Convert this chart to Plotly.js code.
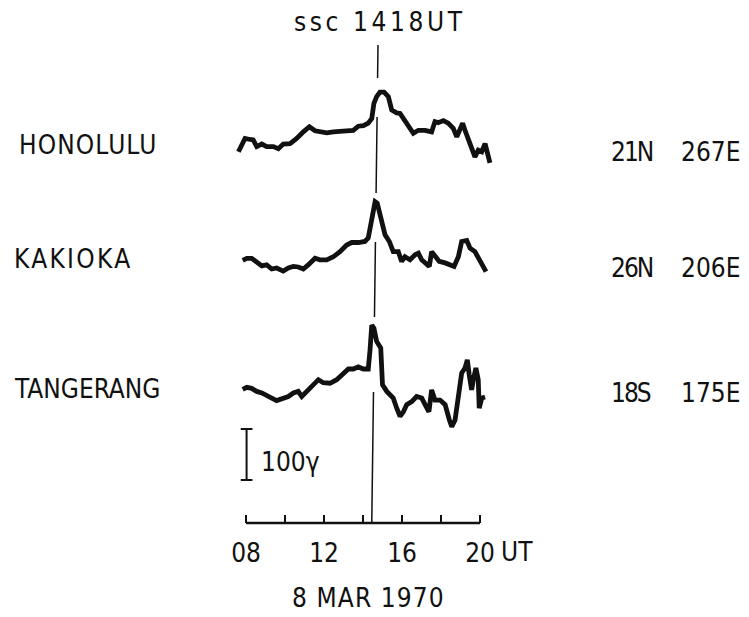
<!DOCTYPE html>
<html>
<head>
<meta charset="utf-8">
<script src="https://cdn.plot.ly/plotly-3.0.1.min.js"></script>
<style>html,body{margin:0;padding:0;background:#fff;}#chart{width:749px;height:617px;}</style>
</head>
<body>
<div id="chart"></div>
<script>
// ---------------- DATA ----------------
const stations = ['HONOLULU', 'KAKIOKA', 'TANGERANG'];
const stationLat = ['21N', '26N', '18S'];
const stationLon = ['267E', '206E', '175E'];
const sscLabel = 'ssc 1418UT';
const dateLabel = '8 MAR 1970';
const scaleLabel = '100γ';
const scaleGamma = 100;
const tickHours = [8, 10, 12, 14, 16, 18, 20];
const tickLabels = ['08', '', '12', '', '16', '', '20'];
const unitLabel = 'UT';

// H-component deviations (gamma) vs time (UT hours)
const honoluluT = [7.61,7.95,8.21,8.37,8.55,8.81,9.06,9.40,9.66,9.91,10.26,10.60,10.94,11.25,11.54,11.79,12.14,12.48,12.82,13.16,13.50,13.76,14.02,14.27,14.45,14.56,14.70,14.87,15.08,15.30,15.47,15.73,15.90,16.15,16.41,16.58,16.84,17.18,17.52,17.69,17.86,18.12,18.37,18.63,18.81,18.97,19.11,19.23,19.40,19.57,19.74,19.91,20.09,20.26,20.37,20.51];
const honoluluH = [-11,15,13,12,-1,4,-1,-1,-5,4,5,15,28,38,30,28,26,28,28,30,31,39,40,45,54,84,97,106,106,97,71,65,64,48,35,25,31,31,28,48,46,50,45,35,18,31,45,31,12,-1,-21,-8,-11,5,-14,-33];

const kakiokaT = [7.83,8.04,8.29,8.55,8.81,9.06,9.32,9.57,9.91,10.17,10.43,10.68,10.94,11.19,11.54,11.79,12.14,12.48,12.82,13.16,13.42,13.76,14.10,14.27,14.39,14.53,14.62,14.73,14.87,15.01,15.13,15.35,15.55,15.81,15.98,16.15,16.41,16.67,16.84,17.01,17.27,17.40,17.52,17.69,17.91,18.21,18.46,18.67,18.89,19.06,19.32,19.49,19.74,19.91,20.09,20.31];
const kakiokaH = [-1,3,3,-6,-12,-10,-18,-16,-22,-16,-13,-14,-18,-10,3,0,0,6,16,29,34,34,36,43,72,101,114,111,88,62,49,36,16,16,-3,6,0,10,13,0,-10,-13,16,6,-3,-6,-10,-13,6,36,38,23,16,3,-10,-23];

const tangerangT = [7.83,8.04,8.29,8.55,8.81,9.06,9.32,9.57,9.83,10.17,10.43,10.68,10.86,11.11,11.45,11.71,11.96,12.31,12.65,12.91,13.25,13.50,13.76,14.02,14.27,14.36,14.45,14.56,14.70,14.91,14.94,14.96,15.00,15.22,15.55,15.73,15.90,16.07,16.24,16.50,16.75,17.01,17.27,17.38,17.52,17.69,17.95,18.21,18.43,18.55,18.72,18.89,19.06,19.23,19.35,19.45,19.57,19.69,19.79,19.91,19.96,20.09,20.26];
const tangerangH = [1,5,3,-3,-6,-10,-16,-21,-18,-13,-6,-3,-13,-3,10,20,14,13,20,29,41,41,45,41,41,78,127,121,95,82,55,29,10,-3,-16,-36,-52,-43,-29,-23,-13,-16,-36,-43,0,-20,-20,-29,-59,-72,-59,-10,33,43,59,29,0,26,43,20,-36,-16,-14];

// ---------------- LAYOUT GEOMETRY ----------------
const W = 749, H = 617;
const M = {l: 234, r: 253, t: 40, b: 94};
const plotW = W - M.l - M.r, plotH = H - M.t - M.b;
const pxPerHour = 19.5, pxPerGamma = 0.51;
const axisLeftPx = 246;
const xRange = [8 - (axisLeftPx - M.l) / pxPerHour, 8 + (plotW - (axisLeftPx - M.l)) / pxPerHour];
const yRange = [0, plotH / pxPerGamma];
const stackOffset = [739, 516, 261];   // vertical placement of each trace (gamma above axis)
const yOf = py => (H - M.b - py) / pxPerGamma;     // pixel row -> y value
const px2paperX = px => (px - M.l) / plotW;
const px2paperY = py => (H - M.b - py) / plotH;

const FONT = '"DejaVu Sans Condensed", "DejaVu Sans", sans-serif';
const INK = '#111';

const series = [[honoluluT, honoluluH], [kakiokaT, kakiokaH], [tangerangT, tangerangH]];
const traces = series.map((s, i) => ({
  x: s[0],
  y: s[1].map(v => v + stackOffset[i]),
  type: 'scatter', mode: 'lines',
  line: {color: INK, width: 4.8, shape: 'linear'},
  hoverinfo: 'skip', showlegend: false
}));

// ssc line (slightly tilted as in the scan), broken where it crosses the traces
const sscHourBottom = 14.45, sscTiltHours = 0.32;
const sscSegmentsPx = [[45, 78], [117, 193], [242, 317], [392, 523]];
const sscX = py => sscHourBottom + sscTiltHours * (H - M.b - py) / (H - M.b - 45);
const shapes = [];
sscSegmentsPx.forEach(seg => {
  shapes.push({type: 'line', xref: 'x', yref: 'y',
    x0: sscX(seg[0]), y0: yOf(seg[0]), x1: sscX(seg[1]), y1: yOf(seg[1]),
    line: {color: INK, width: 1.5}});
});
// time axis baseline from 08 to 20 UT
shapes.push({type: 'line', xref: 'x', yref: 'paper', x0: tickHours[0], x1: tickHours[tickHours.length - 1], y0: 0, y1: 0,
  line: {color: INK, width: 2.6}});
// 100 gamma scale bar
const sbHour = 8.03, sbBottom = yOf(480);
const serif = 0.3;
shapes.push({type: 'line', xref: 'x', yref: 'y', x0: sbHour, x1: sbHour, y0: sbBottom, y1: sbBottom + scaleGamma, line: {color: INK, width: 2}});
shapes.push({type: 'line', xref: 'x', yref: 'y', x0: sbHour - serif, x1: sbHour + serif, y0: sbBottom, y1: sbBottom, line: {color: INK, width: 2}});
shapes.push({type: 'line', xref: 'x', yref: 'y', x0: sbHour - serif, x1: sbHour + serif, y0: sbBottom + scaleGamma, y1: sbBottom + scaleGamma, line: {color: INK, width: 2}});

const ann = (text, px, py, anchor, ls) => ({
  text: ls ? '<span style="letter-spacing:' + ls + 'px">' + text + '</span>' : text,
  xref: 'paper', yref: 'paper', x: px2paperX(px), y: px2paperY(py),
  xanchor: anchor, yanchor: 'middle', showarrow: false,
  font: {family: FONT, size: 26, color: INK}
});
const stationY = [145, 259, 389];
const stationX = [17, 12, 12];
const stationLS = [1.1, 2.3, 0];
const coordY = [152, 268, 393];
const annotations = [];
stations.forEach((s, i) => annotations.push(ann(s, stationX[i], stationY[i], 'left', stationLS[i])));
stationLat.forEach((s, i) => annotations.push(ann(s, 609, coordY[i], 'left', -2)));
stationLon.forEach((s, i) => annotations.push(ann(s, 679, coordY[i], 'left', 0)));
annotations.push(ann(sscLabel, 380, 22, 'center', 3.6));
annotations.push(ann(dateLabel, 368, 598, 'center', 1.1));
annotations.push(ann(scaleLabel, 259, 462, 'left', 0));
annotations.push(ann(unitLabel, 499, 552, 'left', 0));

const layout = {
  width: W, height: H,
  margin: M,
  paper_bgcolor: '#fff', plot_bgcolor: 'rgba(0,0,0,0)',
  xaxis: {range: xRange, showgrid: false, zeroline: false, showline: false,
    tickmode: 'array', tickvals: tickHours, ticktext: tickLabels,
    ticks: 'inside', ticklen: 8, tickwidth: 2, tickcolor: INK,
    tickfont: {family: FONT, size: 26, color: INK}, ticklabelstandoff: 12, fixedrange: true},
  yaxis: {range: yRange, visible: false, showgrid: false, zeroline: false, fixedrange: true},
  shapes: shapes,
  annotations: annotations,
  showlegend: false
};

Plotly.newPlot('chart', traces, layout, {staticPlot: true, displayModeBar: false});
</script>
</body>
</html>
